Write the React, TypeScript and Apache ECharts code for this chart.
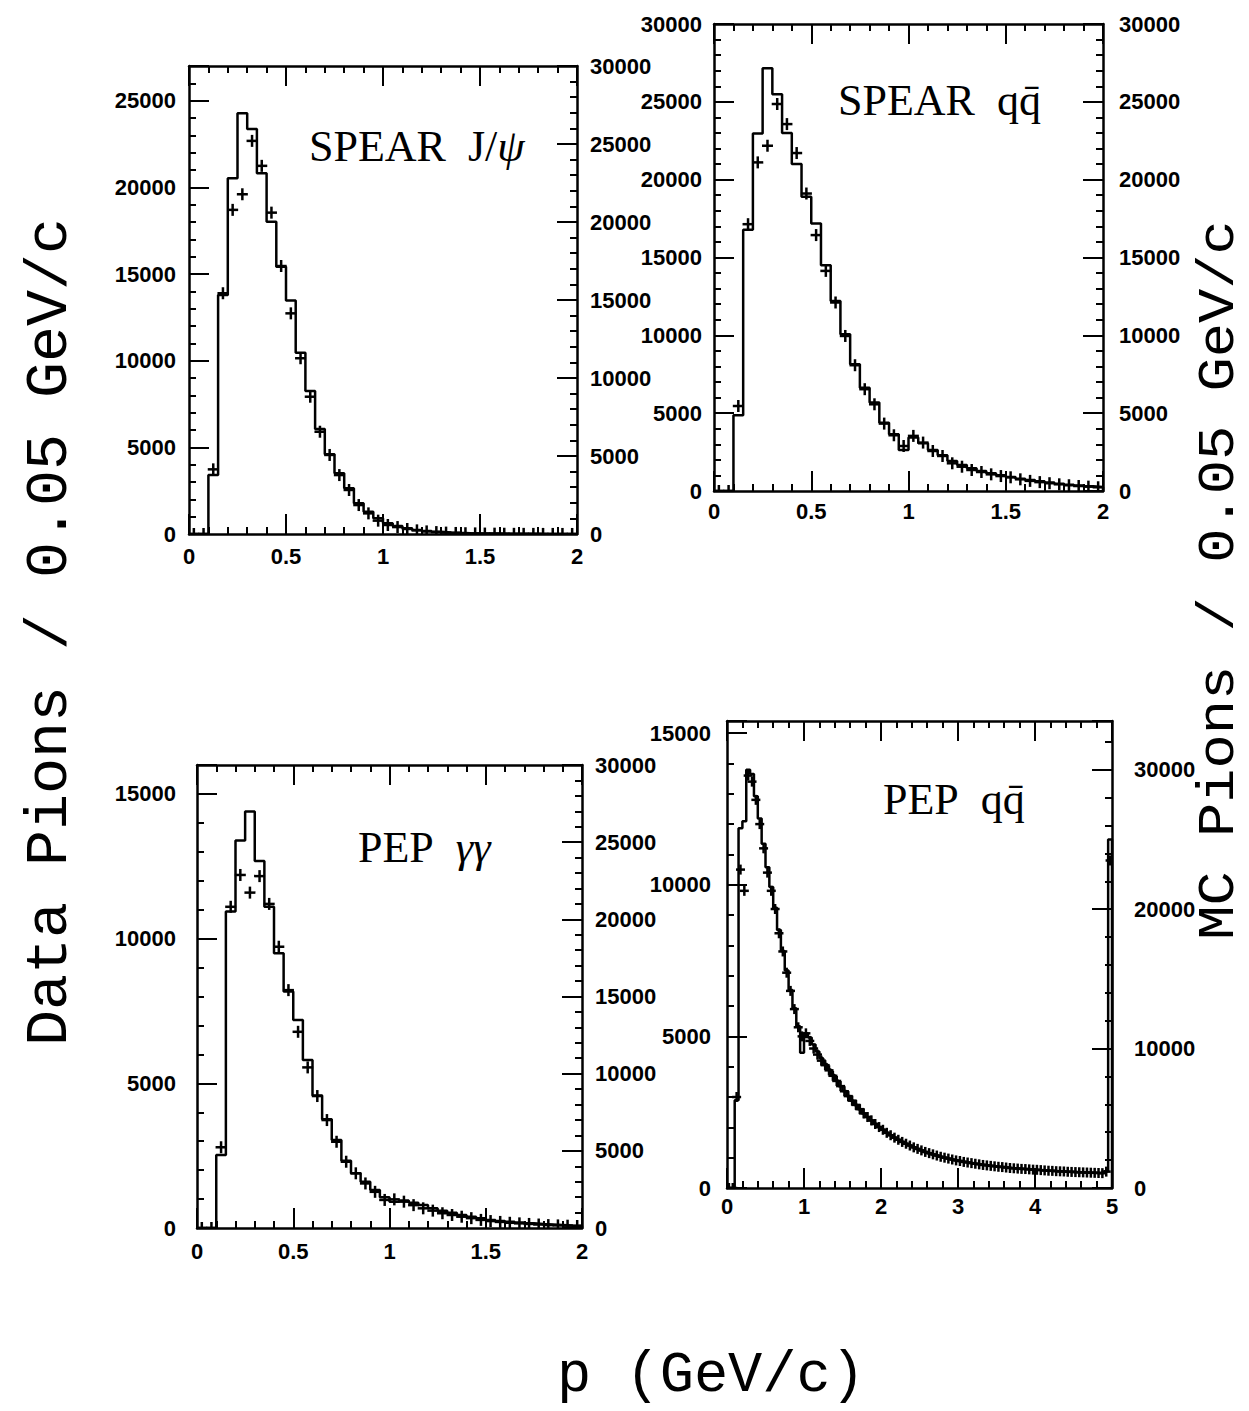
import React, { useEffect, useRef } from 'react';
import * as echarts from 'echarts';

const BIN = 0.05;

// ---------- SPEAR J/psi (40 bins, 0-2 GeV/c) ----------
const spearJpsiMC = [0, 0, 3780, 15320, 22800, 26970, 25960, 23120, 20020, 17130, 14960, 11620, 9170, 6730, 5110, 3890, 2930, 1970, 1430, 1010, 690, 510, 365, 260, 190, 140, 100, 75, 55, 40, 30, 25, 20, 15, 12, 10, 8, 6, 5, 4];
const spearJpsiData = [0, 0, 3730, 13890, 18700, 19600, 22680, 21240, 18540, 15460, 12730, 10140, 7920, 5900, 4560, 3400, 2540, 1670, 1190, 770, 520, 400, 290, 210, 150, 110, 80, 60, 45, 35, 25, 20, 15, 10, 8, 6, 5, 4, 3, 2];

// ---------- SPEAR q qbar ----------
const spearQQMC = [0, 0, 4860, 16780, 22970, 27150, 25480, 22990, 21000, 18900, 17190, 14510, 12210, 10070, 8140, 6640, 5680, 4390, 3640, 2640, 3430, 3060, 2640, 2290, 1930, 1670, 1460, 1290, 1140, 1010, 900, 790, 710, 620, 540, 470, 400, 350, 300, 260];
const spearQQData = [0, 0, 5460, 17140, 21110, 22180, 24860, 23570, 21710, 19110, 16440, 14140, 12110, 9960, 8080, 6540, 5570, 4330, 3580, 2890, 3540, 3110, 2570, 2250, 1780, 1560, 1350, 1220, 1070, 960, 880, 750, 650, 570, 500, 430, 370, 320, 280, 240];

// ---------- PEP gamma gamma ----------
const pepGGMC = [0, 0, 4730, 20500, 25100, 26980, 23780, 20820, 17800, 15320, 13480, 10890, 8580, 7040, 5700, 4360, 3540, 3000, 2460, 2000, 1700, 1780, 1640, 1490, 1280, 1120, 990, 840, 730, 630, 520, 450, 400, 350, 300, 260, 230, 200, 170, 150];
const pepGGData = [0, 0, 2790, 11100, 12200, 11590, 12160, 11200, 9720, 8220, 6780, 5550, 4560, 3730, 2980, 2290, 1890, 1540, 1250, 970, 990, 910, 790, 680, 600, 510, 450, 390, 340, 280, 240, 210, 180, 160, 140, 120, 100, 90, 80, 70];

// ---------- PEP q qbar (100 bins, 0-5 GeV/c) ----------
const pepQQMC = [
  0, 0, 6300, 25800, 26300, 30000, 29700, 28100, 26500, 24700,
  23000, 21600, 20100, 18500, 17000, 15600, 14200, 12900, 11600, 9700,
  11100, 10800, 10300, 9800, 9300, 8900, 8500, 8100, 7700, 7300,
  6950, 6600, 6250, 5950, 5650, 5350, 5100, 4850, 4600, 4380,
  4170, 3970, 3790, 3620, 3460, 3310, 3170, 3040, 2920, 2800,
  2690, 2590, 2500, 2410, 2330, 2250, 2180, 2110, 2050, 1990,
  1930, 1880, 1830, 1780, 1740, 1700, 1660, 1620, 1590, 1560,
  1530, 1500, 1470, 1440, 1420, 1400, 1380, 1360, 1340, 1320,
  1300, 1280, 1260, 1240, 1230, 1210, 1200, 1180, 1170, 1160,
  1140, 1130, 1120, 1110, 1100, 1090, 1080, 1070, 1200, 25000,
];
const pepQQData = [
  0, 0, 3000, 10500, 9800, 13600, 13400, 12800, 12000, 11200,
  10400, 9800, 9200, 8400, 7800, 7100, 6500, 5900, 5300, 5000,
  5100, 4850, 4600, 4400, 4200, 4050, 3880, 3700, 3530, 3360,
  3190, 3030, 2880, 2740, 2600, 2460, 2340, 2230, 2110, 2010,
  1920, 1820, 1740, 1660, 1590, 1520, 1460, 1400, 1340, 1290,
  1240, 1190, 1150, 1110, 1070, 1030, 1000, 970, 940, 910,
  890, 860, 840, 820, 800, 780, 760, 745, 730, 715,
  700, 690, 675, 660, 650, 640, 630, 625, 615, 605,
  600, 590, 580, 570, 565, 555, 550, 545, 535, 530,
  525, 520, 515, 510, 505, 500, 495, 490, 540, 10800,
];

const panels = [
  { grid: { left: 189, top: 66, width: 388, height: 468 }, xMax: 2, xInt: 0.5, lMax: 27000, lInt: 5000, rMax: 30000, rInt: 5000, xMargin: 11, lMargin: 13, rMargin: 13, mc: spearJpsiMC, data: spearJpsiData, hw: 5.5, hh: 6 },
  { grid: { left: 714, top: 24, width: 389, height: 467 }, xMax: 2, xInt: 0.5, lMax: 30000, lInt: 5000, rMax: 30000, rInt: 5000, xMargin: 9, lMargin: 12, rMargin: 16, mc: spearQQMC, data: spearQQData, hw: 5.5, hh: 6 },
  { grid: { left: 197, top: 765, width: 385, height: 463 }, xMax: 2, xInt: 0.5, lMax: 16000, lInt: 5000, rMax: 30000, rInt: 5000, xMargin: 12, lMargin: 21, rMargin: 13, mc: pepGGMC, data: pepGGData, hw: 5.5, hh: 6 },
  { grid: { left: 727, top: 721, width: 385, height: 467 }, xMax: 5, xInt: 1, lMax: 15400, lInt: 5000, rMax: 33500, rInt: 10000, xMargin: 7, lMargin: 16, rMargin: 22, mc: pepQQMC, data: pepQQData, hw: 4.5, hh: 5 },
];

const BLACK = '#000';
const LW = 2.5;
const LABEL_FONT = {
  fontFamily: '"Liberation Sans", Arial, sans-serif',
  fontWeight: 'bold' as const,
  fontSize: 22,
  color: BLACK,
};

function axisCommon() {
  return {
    axisLine: { show: true, onZero: false, lineStyle: { color: BLACK, width: LW } },
    axisTick: { show: true, inside: true, length: 20, lineStyle: { color: BLACK, width: 2 } },
    minorTick: { show: true, splitNumber: 5, length: 7, lineStyle: { color: BLACK, width: 2 } },
    splitLine: { show: false },
    minorSplitLine: { show: false },
  };
}

function fmt(interval: number) {
  return (v: number) => {
    const r = v / interval;
    return Math.abs(r - Math.round(r)) < 1e-6 ? String(Math.round(v * 1000) / 1000) : '';
  };
}

function buildOption() {
  const grid: any[] = [];
  const xAxis: any[] = [];
  const yAxis: any[] = [];
  const series: any[] = [];

  panels.forEach((p, i) => {
    grid.push({ ...p.grid, containLabel: false, outerBoundsMode: 'none' });
    xAxis.push({
      type: 'value', gridIndex: i, position: 'bottom', min: 0, max: p.xMax, interval: p.xInt,
      ...axisCommon(),
      axisLabel: { ...LABEL_FONT, margin: p.xMargin, formatter: fmt(p.xInt), hideOverlap: false },
    });
    xAxis.push({
      type: 'value', gridIndex: i, position: 'top', min: 0, max: p.xMax, interval: p.xInt,
      ...axisCommon(),
      axisLabel: { show: false },
    });
    yAxis.push({
      type: 'value', gridIndex: i, position: 'left', min: 0, max: p.lMax, interval: p.lInt,
      ...axisCommon(),
      axisLabel: { ...LABEL_FONT, margin: p.lMargin, formatter: fmt(p.lInt), hideOverlap: false },
    });
    yAxis.push({
      type: 'value', gridIndex: i, position: 'right', min: 0, max: p.rMax, interval: p.rInt,
      ...axisCommon(),
      axisLabel: { ...LABEL_FONT, margin: p.rMargin, formatter: fmt(p.rInt), hideOverlap: false },
    });

    // MC histogram (right axis)
    const pts: number[][] = p.mc.map((v, k) => [k * BIN, v]);
    pts.push([p.xMax, p.mc[p.mc.length - 1]]);
    pts.push([p.xMax, 0]);
    series.push({
      type: 'line', step: 'end', xAxisIndex: 2 * i, yAxisIndex: 2 * i + 1,
      data: pts, symbol: 'none', showSymbol: false, silent: true, clip: true,
      lineStyle: { color: BLACK, width: LW },
    });

    // Data points as crosses (left axis)
    const hw = p.hw;
    const hh = p.hh;
    series.push({
      type: 'custom', xAxisIndex: 2 * i, yAxisIndex: 2 * i, clip: true, silent: true,
      data: p.data.map((v, k) => [k * BIN + BIN / 2, v]),
      renderItem: (_params: any, api: any) => {
        const c = api.coord([api.value(0), api.value(1)]);
        const st = { stroke: BLACK, lineWidth: LW };
        return {
          type: 'group',
          children: [
            { type: 'line', shape: { x1: c[0] - hw, y1: c[1], x2: c[0] + hw, y2: c[1] }, style: st },
            { type: 'line', shape: { x1: c[0], y1: c[1] - hh, x2: c[0], y2: c[1] + hh }, style: st },
          ],
        };
      },
    });
  });

  const serif = '"Liberation Serif", "Times New Roman", serif';
  const mono = '"Liberation Mono", "Courier New", monospace';
  const richPlain = { fontFamily: serif, fontSize: 44, fill: BLACK, color: BLACK };
  const richItal = { fontFamily: serif, fontSize: 44, fontStyle: 'italic', fill: BLACK, color: BLACK };

  const panelLabel = (x: number, y: number, a: string, b: string, italicB: boolean) => ({
    type: 'text', x, y, silent: true,
    style: {
      text: `{r|${a}}{${italicB ? 'i' : 'r'}|${b}}`,
      rich: { r: richPlain, i: richItal },
      fill: BLACK, align: 'left', verticalAlign: 'middle', textAlign: 'left', textVerticalAlign: 'middle',
    },
  });

  const bigText = (x: number, y: number, text: string, rot: number, size: number, stretch: number) => ({
    type: 'text', x, y, rotation: rot, scaleX: stretch, silent: true,
    style: {
      text, fill: BLACK, font: `normal ${size}px ${mono}`, lineHeight: size - 4,
      align: 'center', verticalAlign: 'middle', textAlign: 'center', textVerticalAlign: 'middle',
    },
  });

  const graphic = [
    panelLabel(309, 146, 'SPEAR  J/', 'ψ', true),
    panelLabel(838, 100, 'SPEAR  ', 'qq\u0304', false),
    panelLabel(358, 847, 'PEP  ', 'γγ', true),
    panelLabel(883, 799, 'PEP  ', 'qq\u0304', false),
    bigText(50, 632, 'Data Pions / 0.05 GeV/c', Math.PI / 2, 60, 1),
    bigText(1219, 580, 'MC Pions / 0.05 GeV/c', Math.PI / 2, 51, 1.12),
    bigText(711, 1376, 'p (GeV/c)', 0, 57, 1),
  ];

  return {
    animation: false,
    backgroundColor: '#fff',
    grid, xAxis, yAxis, series, graphic,
  };
}

export default function App() {
  const ref = useRef<HTMLDivElement>(null);
  useEffect(() => {
    if (!ref.current) return;
    const chart = echarts.init(ref.current, null, { renderer: 'svg' });
    chart.setOption(buildOption() as any);
    return () => chart.dispose();
  }, []);
  return (
    <div
      ref={ref}
      style={{ position: 'absolute', left: 0, top: 0, width: 1249, height: 1411, background: '#fff' }}
    />
  );
}
